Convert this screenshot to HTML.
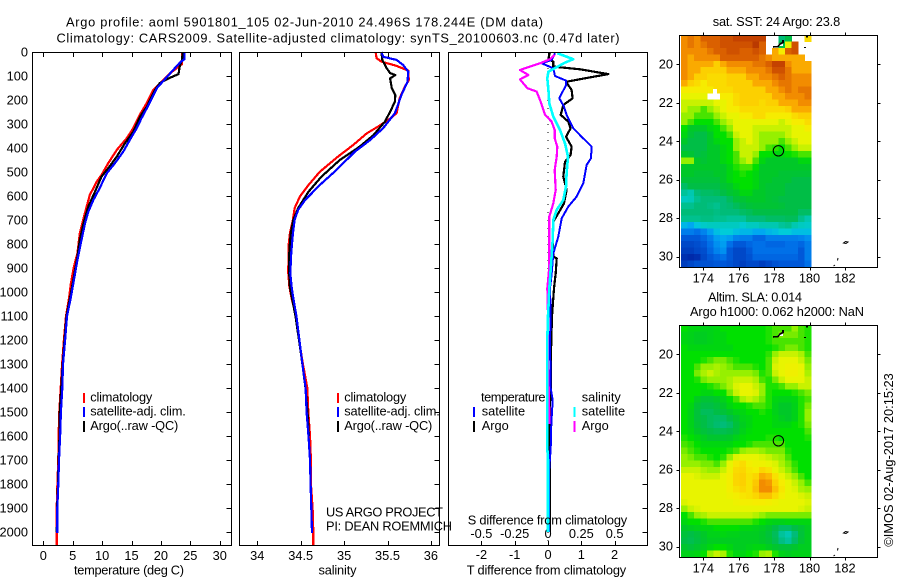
<!DOCTYPE html>
<html>
<head>
<meta charset="utf-8">
<title>Argo profile</title>
<style>
html,body{margin:0;padding:0;background:#fff;}
svg{display:block;}
text{font-family:"Liberation Sans",sans-serif;font-size:12.8px;fill:#000;}
.frame{fill:none;stroke:#000;stroke-width:1;shape-rendering:crispEdges;}
.leg{stroke-width:2;shape-rendering:crispEdges;}
.coast{fill:none;stroke:#000;stroke-width:1.6;shape-rendering:crispEdges;}
.isle{fill:none;stroke:#000;stroke-width:1;}
</style>
</head>
<body>
<svg id="chart" width="900" height="580" viewBox="0 0 900 580" xmlns="http://www.w3.org/2000/svg">
  <rect x="0" y="0" width="900" height="580" fill="#fff"/>
  <text x="66" y="26.5" textLength="477" lengthAdjust="spacing">Argo profile: aoml 5901801_105 02-Jun-2010 24.496S 178.244E (DM data)</text>
  <text x="56.5" y="42.5" textLength="563" lengthAdjust="spacing">Climatology: CARS2009. Satellite-adjusted climatology: synTS_20100603.nc (0.47d later)</text>

  <g id="maps"></g>
  <g id="panels"></g>

  <rect class="frame" x="32.5" y="52.5" width="199" height="493"/>
  <rect class="frame" x="239.5" y="52.5" width="200" height="493"/>
  <rect class="frame" x="448.5" y="52.5" width="199" height="493"/>

  <text x="74" y="574.5" textLength="110" lengthAdjust="spacing">temperature (deg C)</text>
  <text x="318.5" y="574.5" textLength="38" lengthAdjust="spacing">salinity</text>
  <text x="466.7" y="574.5" textLength="159.5" lengthAdjust="spacing">T difference from climatology</text>
  <text x="467.7" y="524.5" textLength="159.5" lengthAdjust="spacing">S difference from climatology</text>

  <g>
    <line class="leg" x1="84" x2="84" y1="393" y2="403" stroke="#f00"/>
    <line class="leg" x1="84" x2="84" y1="407" y2="417" stroke="#00f"/>
    <line class="leg" x1="84" x2="84" y1="421" y2="432" stroke="#000"/>
    <text x="90.3" y="401.7" textLength="62" lengthAdjust="spacing">climatology</text>
    <text x="90.3" y="415.7" textLength="95.5" lengthAdjust="spacing">satellite-adj. clim.</text>
    <text x="90.3" y="430" textLength="88" lengthAdjust="spacing">Argo(..raw -QC)</text>
  </g>
  <g>
    <line class="leg" x1="338" x2="338" y1="393" y2="403" stroke="#f00"/>
    <line class="leg" x1="338" x2="338" y1="407" y2="417" stroke="#00f"/>
    <line class="leg" x1="338" x2="338" y1="421" y2="432" stroke="#000"/>
    <text x="344.3" y="401.7" textLength="62" lengthAdjust="spacing">climatology</text>
    <text x="344.3" y="415.7" textLength="95.5" lengthAdjust="spacing">satellite-adj. clim.</text>
    <text x="344.3" y="430" textLength="88" lengthAdjust="spacing">Argo(..raw -QC)</text>
  </g>
  <g>
    <text x="481" y="401.7" textLength="64.5" lengthAdjust="spacing">temperature</text>
    <text x="481.7" y="415.7">satellite</text>
    <text x="481.7" y="430">Argo</text>
    <line class="leg" x1="474" x2="474" y1="407" y2="417" stroke="#00f"/>
    <line class="leg" x1="474" x2="474" y1="421" y2="432" stroke="#000"/>
    <text x="581.7" y="401.7">salinity</text>
    <text x="581.7" y="415.7">satellite</text>
    <text x="581.7" y="430">Argo</text>
    <line class="leg" x1="574.3" x2="574.3" y1="407" y2="417" stroke="#0ff"/>
    <line class="leg" x1="574.3" x2="574.3" y1="421" y2="432" stroke="#f0f"/>
  </g>
  <text x="326" y="516.7" textLength="117" lengthAdjust="spacing">US ARGO PROJECT</text>
  <text x="326" y="530.7" textLength="126" lengthAdjust="spacing">PI: DEAN ROEMMICH</text>

  <text x="712.7" y="26" textLength="127.5" lengthAdjust="spacing">sat. SST: 24 Argo: 23.8</text>
  <text x="708" y="301.7" textLength="94" lengthAdjust="spacing">Altim. SLA: 0.014</text>
  <text x="690" y="316" textLength="174" lengthAdjust="spacing">Argo h1000: 0.062 h2000: NaN</text>
  <text transform="translate(893,546.7) rotate(-90)" x="0" y="0" textLength="173.5" lengthAdjust="spacing">©IMOS 02-Aug-2017 20:15:23</text>
</svg>
<script>
/* ---------- axis tick values ---------- */
var depthTicks = [0,100,200,300,400,500,600,700,800,900,1000,1100,1200,1300,1400,1500,1600,1700,1800,1900,2000];
var tempTicks = [0,5,10,15,20,25,30];
var salTicks = [34,34.5,35,35.5,36];
var salTickLabels = ['34','34.5','35','35.5','36'];
var tDiffTicks = [-2,-1,0,1,2];
var sDiffTicks = [-0.5,-0.25,0,0.25,0.5];
var sDiffTickLabels = ['-0.5','-0.25','0','0.25','0.5'];
var lonTicks = [174,176,178,180,182];
var latTicks = [20,22,24,26,28,30];

/* ---------- temperature profiles ---------- */
var tempClimDepth = [0,50,90,117,158,221,262,317,359,408,463,512,540,596,651,707,756,839,895,964,1026,1100,1200,1300,1400,1500,1600,1700,1800,1900,2000,2054];
var tempClim = [23.6,23.6,21.5,20.4,18.7,17.4,16.4,15.3,14.2,12.5,11.05,9.9,9.1,7.9,7.3,6.7,6.2,5.8,5.2,4.7,4.37,3.86,3.5,3.2,2.96,2.72,2.6,2.55,2.4,2.28,2.28,2.28];
var tempArgoDepth = [0,30,61,92,110,130,158,228,270,332,380,436,484,519,582,644,707,783,853,936,1005,1100,1200,1300,1400,1500,1600,1700,1800,1900,2000];
var tempArgo = [23.7,23.6,23.2,23,21.3,19.8,19,17.6,16.45,15.3,13.9,12.5,11.05,9.9,8.8,7.65,6.9,6.2,5.8,5.2,4.7,3.95,3.6,3.3,3.05,2.8,2.75,2.6,2.5,2.35,2.3];
var tempSatDepth = [0,30,45,75,110,151,221,276,317,367,415,463,505,567,617,666,714,783,867,950,1026,1100,1200,1300,1400,1500,1600,1700,1800,1900,2005];
var tempSat = [24,24,23.2,22.1,20.8,19.3,17.9,16.7,15.9,14.7,13.6,12.2,10.8,9.6,8.5,7.65,7.1,6.5,5.8,5.2,4.66,4.03,3.7,3.35,3.23,3,2.85,2.67,2.55,2.38,2.38];

/* ---------- salinity profiles ---------- */
var salClimDepth = [0,26,40,58,78,117,144,192,255,283,311,339,387,436,499,554,603,651,700,756,811,922,978,1026,1100,1200,1300,1400,1500,1600,1700,1800,1900,2000,2054];
var salClim = [35.363,35.375,35.43,35.605,35.74,35.745,35.7,35.64,35.605,35.51,35.39,35.26,35.106,34.93,34.72,34.59,34.49,34.43,34.41,34.376,34.36,34.357,34.37,34.395,34.445,34.48,34.525,34.576,34.588,34.607,34.618,34.618,34.637,34.645,34.645];
var salArgoDepth = [0,33,67,88,96,110,151,179,207,249,290,346,394,450,519,582,651,700,756,825,908,978,1026,1100,1200,1300,1400,1500,1600];
var salArgo = [35.43,35.44,35.49,35.53,35.59,35.53,35.55,35.59,35.585,35.53,35.47,35.34,35.18,34.95,34.74,34.59,34.47,34.415,34.385,34.37,34.365,34.375,34.4,34.44,34.48,34.52,34.555,34.578,34.595];
var salSatDepth = [0,20,33,54,82,124,179,221,255,317,367,415,492,554,617,658,700,756,839,922,978,1026,1100,1200,1300,1400,1500,1600,1700,1800,1900,2005];
var salSat = [35.43,35.45,35.605,35.68,35.74,35.73,35.66,35.62,35.585,35.45,35.3,35.125,34.91,34.72,34.55,34.47,34.43,34.41,34.39,34.38,34.395,34.415,34.45,34.485,34.52,34.557,34.568,34.59,34.607,34.614,34.622,34.63];

/* ---------- difference profiles ---------- */
var tDiffArgoDepth = [0,30,40,61,72,92,106,124,158,193,221,262,290,318,353,394,429,457,519,575,631,672,707,783,853,860,922,985,1100,1200,1300,1400,1500,1600,1800,2000];
var tDiffArgo = [0.06,0.01,0.16,0.16,0.96,1.81,1.26,0.54,0.71,0.74,0.46,0.38,0.61,0.68,0.54,0.71,0.68,0.51,0.46,0.56,0.48,0.31,0.16,0.14,0.16,0.26,0.23,0.18,0.12,0.1,0.08,0.08,0.05,0.05,0.05,0.05];
var tDiffSatDepth = [5,33,47,68,100,119,138,193,228,262,318,353,394,443,471,547,603,644,693,769,839,922,985,1100,1200,1300,1400,1450,1550,1650,1750,2000];
var tDiffSat = [0.21,0.11,-0.19,0.16,0.21,0.54,0.54,0.34,0.48,0.56,0.76,1.01,1.31,1.29,1.16,1.06,0.86,0.61,0.41,0.31,0.16,0.11,0.06,0.08,0.06,0.07,0.08,0.14,0.1,0.08,0.03,0.03];
var sDiffArgoDepth = [12,30,47,75,96,114,151,165,214,262,290,325,360,394,436,492,575,631,686,783,894,985,1100,1200,1300,1400,1500,1550];
var sDiffArgo = [0.05,0.015,-0.06,-0.21,-0.147,-0.21,-0.155,-0.085,-0.05,-0.022,0.027,0.05,0.05,0.07,0.065,0.05,0.058,0.04,0.01,0.01,0.01,-0.005,0,0,0,0.005,0.01,0.01];
var sDiffSatDepth = [5,30,44,82,110,158,214,269,325,381,436,506,561,617,658,700,783,894,985,1100,1200,1300,1650,1700,2000];
var sDiffSat = [0.07,0.19,0.128,0.003,-0.005,0.003,0.01,0.04,0.09,0.128,0.15,0.14,0.135,0.115,0.065,0.04,0.035,0.022,0.01,0,-0.005,-0.005,-0.005,0,0];

/* ---------- map values (colour index; null = no data) ---------- */
var sstGrid = [
[10,10.5,10,11,11,11,11.5,11.5,12,12,12,12,12,null,null,4.5,5,null,null,8.8],
[10,10.5,10,10.5,11,11,11.5,11.5,11.5,11.5,11.5,12.5,11,null,null,5,8,11.5,null,null],
[10,10,10,10,10.5,11,11,11.5,11.5,11,11,11.5,11,null,9.5,8.5,11,11.5,null,null],
[10,9.5,10,10,10,10,11,11,11,11,11,11,10.5,10,9.5,9.5,9.5,9.5,9.5,null],
[10,9.5,9.5,9.5,9.5,9,9.5,10,10,10,10,10.5,10.5,11,12,12,10,9.5,9.5,9.5],
[10,9.5,9.5,9,9,9,9,9.5,9.5,9.5,10,10,10,10.5,11.5,11.5,10.5,9.5,9.5,9.5],
[10,9.5,9,9,8.8,8.8,8.8,9,9,9,9.5,9.5,10,10,10.5,11,10.5,10,10,10],
[9.5,9,8.8,8.5,8.8,8.8,8.8,9,9,9,9,9.5,9.5,9.5,10,10.5,10.5,10,10,10],
[8.5,8.5,8.5,8.5,8.5,8.8,8.8,8.8,9,9,9,9,9,9.5,9.5,10,10.5,10,10.5,10.5],
[8,8,8,8,null,null,8.5,8.5,8.8,9,9,9,9,9,9.5,9.5,10,10,10,10.5],
[7.5,7.5,7.5,7.5,7.5,8,8,8.5,8.8,9,9,9,8.8,9,9,9.5,9.5,9.5,10,10],
[7.5,7,7,6.5,7,7.5,8,8.5,8.5,8.8,8.8,8.8,8.8,8.8,8.8,8.8,9,9.5,9.5,9.5],
[7,7,6.5,6.5,6.5,7,7.5,8,8,8.5,8.5,8.8,8.8,8.5,8.5,8.5,8.5,8.8,9,9],
[7,6.5,6,6,6,6.5,7,7.5,8,8,8,8,8,8,8,7.5,8,8.5,8.5,8.8],
[6,5.5,5.5,5.5,5.8,6,6.5,7,8,8,8,7.5,7.5,7.5,7.5,7.5,7.5,8,8,8.5],
[5.8,5.3,5,5,5.5,6,6,6.5,7.5,8,8,7.5,7,7,7,7,7.5,8,8,8],
[5.5,5,5,5,5.5,5.8,6,6,7,7.5,8,7.5,7,7,7,6.5,7,7.5,8,8],
[5,5,5,5,5.5,5.5,5.8,6,7,7.5,7.5,7.5,7,6.5,6.3,6,6.5,7,7.5,7.5],
[5.5,5.3,5,5.2,5.5,5.5,5.8,6,6.5,7.5,7.5,7,6,6,5.8,5.8,6,6.2,6.5,6.5],
[7,7,5.5,5.3,5.5,5.5,5.8,6,6.5,7,7.5,6.5,5.8,5.5,5.5,5.5,5.5,5.5,5.8,5.8],
[5.5,5.5,5.5,5.5,5.5,5.5,5.5,5.8,6.2,6.5,6.5,6,5.5,5.5,5.5,5.5,5.5,5.5,5.5,5.5],
[5.5,5.5,5.3,5.3,5.3,5.5,5.5,5.8,6,6.2,6,5.8,5.5,5.5,5.5,5.3,5.3,5.3,5.3,5.3],
[5.2,5.2,5.2,5.2,5.2,5.2,5.5,5.8,6,6,6,5.8,5.5,5.5,5.3,5.3,5.3,5,5,5],
[4.7,5,5,5,5,5,5.3,5.5,5.8,6,6,5.8,5.5,5.3,5.3,5.3,5,5,5,5],
[4.2,4,4.5,4.7,4.7,4.8,5,5.3,5.5,5.8,5.8,5.5,5.5,5.3,5.3,5.3,5,5,5,5],
[3.8,3.9,4.3,4.5,4.5,4.5,4.5,4.8,5.2,5.3,5.5,5.5,5.5,5.3,5.2,5,5,5,5,5],
[4.3,4.3,4.5,4.5,4.4,4.3,4.5,4.6,4.8,5,5.2,5.3,5.3,5.3,5.3,5.2,5,5,5,5],
[4.5,4.5,4.5,4.5,4.5,4.4,4.5,4.5,4.5,4.7,4.8,5,5,5,5,5,5,5,4.7,4.7],
[4.3,4.3,4.3,4.4,4.4,4.3,4.3,4.2,4.2,4.2,4.5,4.5,4.5,4.7,4.7,4.7,4.8,4.8,4.3,4],
[3.2,3,3.4,3.7,3.8,3.8,3.8,3.8,3.8,3.6,3.8,3.8,4,4,4,4.2,4.3,4,3.8,3.7],
[2.2,2.2,2,2.3,2.8,3.3,3.5,3.5,3.3,3.2,3.2,3,3,3.2,3.3,3.5,3.5,3.3,3.3,3.3],
[1.5,1.5,1.5,1.8,2.2,2.8,3,2.8,2.3,2.2,2.2,1.8,1.8,2.2,2.2,2.2,2.2,2.2,2.3,2.5],
[1,1,1.2,1.5,2,2.5,2.8,2,1.5,1.5,1.8,2,2,1.8,1.8,1.8,2,2,1.8,2.2],
[0.8,0.8,1,1.2,1.8,2.3,2.5,1.5,1,1,1.5,2,2,2,2,2,2,2,1.5,2.2],
[0.5,0.3,0.5,1,1.5,1.8,2,1.5,1,1,1.3,1.8,1.8,1.8,1.8,1.8,1.8,1.8,1.5,2.2],
[0.8,1,1.3,1.3,1.3,1.5,1.5,1.3,1,0.8,1,1,0.8,1,1.3,1.5,1.5,1.5,1.5,2]
];
var slaGrid = [
[6,5.8,5.8,5.7,5.7,5.8,6,6,6,6,6,6,6,6.2,6.5,6.5,6.5,7,6.5,6.2],
[5.8,5.7,5.6,5.6,5.7,5.8,5.8,6,6,6,6,6,6,6.2,6.5,6.8,6.8,6.8,6.5,6.2],
[5.8,5.7,5.6,5.6,5.7,5.8,5.8,6,6,6,6,6,6,6.2,6.5,6.5,6.5,6.5,6.5,6.2],
[6,5.8,5.8,5.8,5.8,5.8,5.8,5.8,6,6,6,6,6,6,6.2,6.5,6.8,6.8,6.5,6.2],
[6,6,6,6,6,6,6,6,6,6,6,6,6,6.3,7,7.5,7.5,7.5,7.2,6.5],
[6,6,6,6.2,6.5,6.8,6.8,6.5,6.2,6,6,6,6,6.5,7.5,8,8,8,7.5,6.8],
[6,6,6.5,7,7,7.2,7,6.8,6.5,6.5,6.5,6.2,6,6.5,7.8,8,8.2,8.2,8,7],
[6,6,6.8,7.2,7.5,7.2,7,7,7,7,7,6.8,6.2,6.5,7.5,8,8.3,8.3,8,7.2],
[6,6,6.2,6.8,7,7,7,7.2,7.5,7.5,7.5,7.2,6.5,6.2,6.8,7.5,8,8,8,7.5],
[6,6,6,6,6.2,6.5,6.8,7.2,7.8,8,8,7.5,7,6.2,6.2,6.5,7,7,7.5,7.5],
[6,6,6,5.8,5.8,6,6,6.8,7.5,8,8,7.8,7,6.2,6,6,6,6.2,6.5,6.8],
[6,6,5.6,5.3,5.3,5.5,5.7,6,6.5,7.2,7.5,7.2,6.8,6.2,5.8,5.7,5.7,5.8,6.2,6.5],
[6,5.8,5.3,5,5,5.2,5.5,5.8,6,6,6.2,6.5,6.5,6.2,5.7,5.5,5.5,5.7,6.2,6.8],
[6,5.7,5.2,4.8,4.8,5,5.2,5.5,5.7,5.8,6,6,6.2,6,5.7,5.5,5.5,5.7,6.2,7],
[6,5.7,5.2,5,4.8,4.7,4.7,5,5.4,5.7,5.8,6,6,6,5.8,5.6,5.5,5.7,6.2,7],
[6,5.7,5.3,5,4.8,4.6,4.5,4.7,5.2,5.6,5.8,6,6,6,5.8,5.8,5.8,6,6.2,6.8],
[6,5.8,5.5,5.2,5,4.9,4.9,5,5.3,5.7,5.9,6,6,6,6,6,6,6,6,6.5],
[6.2,6,5.8,5.6,5.4,5.4,5.4,5.5,5.7,5.9,6,6,6,6.2,6.2,6,6,6,6,6.2],
[6.5,6.3,6,5.8,5.8,5.8,5.8,5.8,6,6,6.2,6.5,6.5,6.5,6.5,6.5,6,6,6,6],
[6.8,6.5,6.2,6,6,6,6,6.2,6.5,7,7.2,7.2,7,6.8,6.8,6.8,6.2,6,6,6],
[7,6.8,6.5,6.5,6.2,6,6.3,7,7.8,8,8,8,7.8,7.5,7.2,7,6.5,6,6,6],
[7,7,7,6.8,6.8,6.5,7,8,8.6,8.8,8.4,8.2,8.2,8,7.8,7.2,6.8,6.3,6,6],
[7.5,7.5,7.5,7.2,7,7,7.5,8.2,8.8,8.9,8.6,8.5,8.9,8.7,8,7.5,7,6.5,6,6],
[8,8,7.8,7.5,7.5,7.5,8,8.4,8.9,9,8.7,8.9,9.5,9.3,8.7,8,7.5,7,6.5,6],
[8,8,8,8,8,8,8,8.4,8.9,9,8.7,9.1,10,9.8,9,8.5,8,7.5,7,6.5],
[8,8,8,8,8,8,8,8.4,8.7,8.9,8.7,9.2,10,10,9.2,8.6,8,7.8,7.2,7],
[8,8,8,8,8,8,8,8.2,8.4,8.6,8.7,8.9,9.2,9.2,8.8,8.4,8,8,7.8,7.5],
[7.8,8,8,8,8,8,8,8,8.2,8.4,8.4,8.5,8.5,8.4,8.2,8,8,8,8,7.8],
[7,7.5,7.8,8,8,8,8,8,8,8,8,8,8,8,8,8,8,8,7.8,7.5],
[6,6.5,7,7.2,7.5,7.5,7.5,7.5,7.5,7.5,7.5,7.3,7,6.8,6.8,6.8,6.8,6.8,6.8,6.8],
[5.8,6,6,6.2,6.5,6.5,6.5,6.5,6.5,6.5,6.5,6.2,6,5.8,5.7,5.7,5.8,5.8,5.8,5.8],
[5.5,5.6,5.7,5.8,5.8,6,6,6,6,5.8,5.8,5.7,5.6,5.4,5,4.7,4.7,5,5.3,5.6],
[5.2,5,5.2,5.5,5.7,5.7,5.8,5.7,5.7,5.6,5.6,5.6,5.5,5.2,4.8,4.2,4,4.5,5.2,5.6],
[5,4.9,5.1,5.4,5.6,5.6,5.6,5.6,5.6,5.6,5.6,5.6,5.5,5.3,4.9,4.4,4.2,4.7,5.3,5.6],
[5.4,5.2,5.4,5.6,5.8,6,6,5.8,5.6,5.6,5.7,5.8,5.8,5.6,5.4,5.2,5.2,5.4,5.6,5.6],
[5.7,5.7,5.8,6,7,7.5,7.2,6.2,5.8,5.8,6,6.2,7,7.2,6.2,5.7,5.6,5.7,5.7,5.7]
];
var profileLon = 178.244;
var profileLat = 24.496;

/* ---------- axis functions ---------- */
var NS = 'http://www.w3.org/2000/svg';
function yDepth(d){ return 52 + 0.24 * d; }
function xTemp(t){ return 43.3 + 5.88 * t; }
function xSal(s){ return 257.3 + 86.8 * (s - 34); }
function xTDiff(v){ return 548 + 33.3 * v; }
function xSDiff(v){ return 548 + 133.2 * v; }
function xLon(l){ return 703.3 + 17.7 * (l - 174); }
function yLat(top, l){ return top + 29.3 + 19.24 * (l - 20); }

var colorStops = [
 [0,0,32,160],[0.5,0,48,176],[1,0,72,200],[1.5,0,88,216],[2,0,112,232],[2.5,0,144,240],[3,0,168,240],
 [3.5,0,204,216],[4,0,200,176],[4.5,0,188,120],[5,0,190,70],[5.5,0,200,40],[6,0,224,0],[6.5,72,228,0],
 [7,150,240,0],[7.5,200,242,0],[8,232,244,0],[8.5,246,236,0],[9,252,208,0],[9.5,250,170,0],[10,242,140,0],
 [11,218,96,0],[12,196,66,0],[13,176,48,0]
];
function colorOf(v){
  for (var i = 1; i < colorStops.length; i++) {
    if (v <= colorStops[i][0]) {
      var a = colorStops[i-1], b = colorStops[i];
      var f = (v - a[0]) / (b[0] - a[0]);
      return 'rgb(' + Math.round(a[1]+(b[1]-a[1])*f) + ',' + Math.round(a[2]+(b[2]-a[2])*f) + ',' + Math.round(a[3]+(b[3]-a[3])*f) + ')';
    }
  }
  return 'rgb(176,48,0)';
}

function make(tag, parent, attrs){
  var el = document.createElementNS(NS, tag);
  for (var k in attrs) { el.setAttribute(k, attrs[k]); }
  parent.appendChild(el);
  return el;
}
function tick(parent, x1, y1, x2, y2){
  var el = make('line', parent, {x1:x1, y1:y1, x2:x2, y2:y2, stroke:'#000', 'stroke-width':1, 'shape-rendering':'crispEdges'});
  
  
}
function label(parent, str, x, y, anchor){
  var el = make('text', parent, {x:x, y:y, 'text-anchor':anchor});
  el.textContent = str;
  
  
}
function series(parent, name, depths, values, xFn, color, width){
  var pts = [];
  for (var i = 0; i < depths.length; i++) { pts.push(xFn(values[i]).toFixed(1) + ',' + yDepth(depths[i]).toFixed(1)); }
  var el = make('polyline', parent, {points:pts.join(' '), fill:'none', stroke:color, 'stroke-width':width, 'stroke-linejoin':'round', 'shape-rendering':'crispEdges'});
  
  
}

/* ---------- profile panels ---------- */
var panels = document.getElementById('panels');
var frames = [[32.5,231.5],[239.5,439.5],[448.5,647.5]];
depthTicks.forEach(function(d){
  var y = Math.round(yDepth(d)) + 0.5;
  label(panels, String(d), 28, yDepth(d) + 4.5, 'end');
  frames.forEach(function(f){ tick(panels, f[1] - 5, y, f[1], y); });
});
tempTicks.forEach(function(t){
  var x = Math.round(xTemp(t)) + 0.5;
  tick(panels, x, 52.5, x, 57);
  tick(panels, x, 541, x, 545.5);
  label(panels, String(t), xTemp(t), 560, 'middle');
});
salTicks.forEach(function(s, i){
  var x = Math.round(xSal(s)) + 0.5;
  tick(panels, x, 52.5, x, 57);
  tick(panels, x, 541, x, 545.5);
  label(panels, salTickLabels[i], xSal(s), 560, 'middle');
});
tDiffTicks.forEach(function(v){
  var x = Math.round(xTDiff(v)) + 0.5;
  tick(panels, x, 52.5, x, 57);
  tick(panels, x, 541, x, 545.5);
  label(panels, String(v), xTDiff(v), 559, 'middle');
});
sDiffTicks.forEach(function(v, i){
  label(panels, sDiffTickLabels[i], xSDiff(v), 538, 'middle');
});

var zero = make('line', panels, {x1:xTDiff(0), x2:xTDiff(0), y1:52, y2:545, stroke:'#000', 'stroke-width':1, 'stroke-dasharray':'1 7', 'shape-rendering':'crispEdges'});



series(panels, 'temperature-climatology-line', tempClimDepth, tempClim, xTemp, '#f00', 2.2);
series(panels, 'temperature-argo-line', tempArgoDepth, tempArgo, xTemp, '#000', 2.2);
series(panels, 'temperature-satellite-line', tempSatDepth, tempSat, xTemp, '#00f', 2.2);
series(panels, 'salinity-climatology-line', salClimDepth, salClim, xSal, '#f00', 2.2);
series(panels, 'salinity-argo-line', salArgoDepth, salArgo, xSal, '#000', 2.2);
series(panels, 'salinity-satellite-line', salSatDepth, salSat, xSal, '#00f', 2.2);
series(panels, 't-difference-argo-line', tDiffArgoDepth, tDiffArgo, xTDiff, '#000', 2.2);
series(panels, 't-difference-satellite-line', tDiffSatDepth, tDiffSat, xTDiff, '#00f', 2);
series(panels, 's-difference-argo-line', sDiffArgoDepth, sDiffArgo, xSDiff, '#f0f', 2.2);
series(panels, 's-difference-satellite-line', sDiffSatDepth, sDiffSat, xSDiff, '#0ff', 2.6);

/* ---------- maps ---------- */
var maps = document.getElementById('maps');
function drawMap(name, grid, top, height){
  var g = make('g', maps, {});
  
  
  var cw = 6.5, rh = height / grid.length;
  grid.forEach(function(row, r){
    row.forEach(function(v, c){
      if (v === null) { return; }
      var cell = make('rect', g, {x:(681 + c * cw).toFixed(2), y:(top + r * rh).toFixed(2), width:cw + 0.4, height:(rh + 0.4).toFixed(2), fill:colorOf(v), 'shape-rendering':'crispEdges'});
      
      
    });
  });
  var gap = make('rect', g, {x:779, y:top + 8, width:4, height:3, fill:'#fff', 'shape-rendering':'crispEdges'});
  
  
  var coast = 'M' + 773 + ' ' + (top + 12) + 'L778 ' + (top + 11.5) + 'L780 ' + (top + 9) + 'L783 ' + (top + 7.5) + 'L783 ' + (top + 5)
    + 'M807 ' + (top + 0.5) + 'v2M805 ' + (top + 12) + 'v1';
  var cp = make('path', g, {d:coast, 'class':'coast'});
  
  
  var isles = 'M843.5 ' + (top + 208) + 'l2 -1.5l2.5 0.5l-2 1.5zM837.5 ' + (top + 225.5) + 'l0.5 -2.5M833.5 ' + (top + 231) + 'l1.5 -1';
  var ip = make('path', g, {d:isles, 'class':'isle'});
  
  
  var frame = make('rect', g, {x:679.5, y:top + 0.5, width:198, height:height, 'class':'frame'});
  
  
  lonTicks.forEach(function(l){
    var x = Math.round(xLon(l)) + 0.5;
    tick(g, x, top - 2.5, x, top + 0.5);
    tick(g, x, top + height + 0.5, x, top + height + 3.5);
    label(g, String(l), xLon(l), top + height + 15.5, 'middle');
  });
  latTicks.forEach(function(l){
    var y = Math.round(yLat(top, l)) + 0.5;
    tick(g, 676.5, y, 679.5, y);
    tick(g, 877.5, y, 880.5, y);
    label(g, String(l), 673, yLat(top, l) + 4, 'end');
  });
  var circle = make('circle', g, {cx:xLon(profileLon), cy:yLat(top, profileLat), r:5.2, fill:'none', stroke:'#000', 'stroke-width':1});
  
  
}
drawMap('sst-map', sstGrid, 35, 232);
drawMap('sla-map', slaGrid, 325, 232);
var notch = make('rect', maps, {x:713, y:89, width:4, height:5, fill:'#fff', 'shape-rendering':'crispEdges'});


</script>
</body>
</html>
